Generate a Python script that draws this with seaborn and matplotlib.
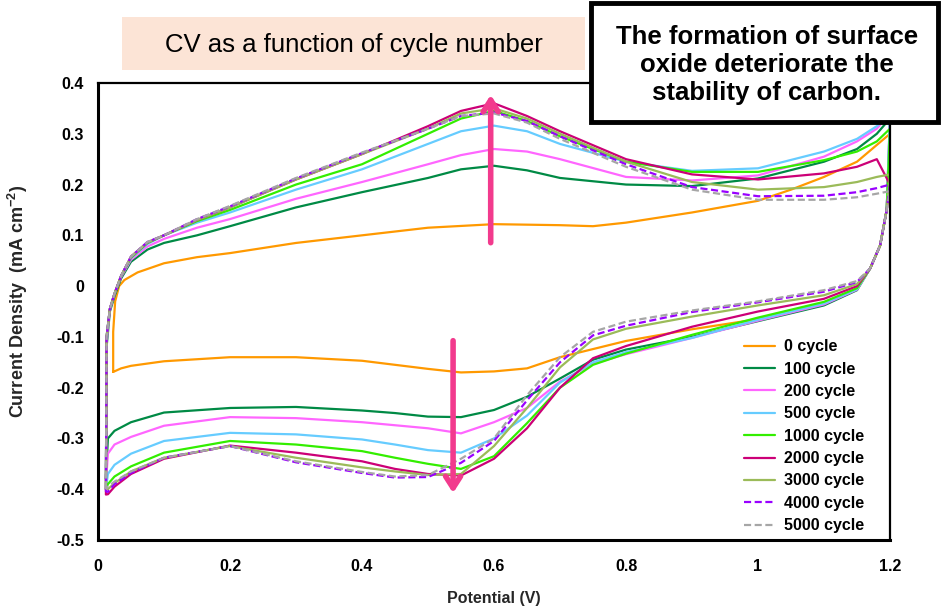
import numpy as np
import pandas as pd
import matplotlib
matplotlib.use("Agg")
import matplotlib.pyplot as plt
import seaborn as sns
from matplotlib.patches import Rectangle

sns.set_theme(style="white")
plt.rcParams['font.family'] = ['Liberation Sans', 'DejaVu Sans']
plt.rcParams['mathtext.fontset'] = 'custom'
plt.rcParams['mathtext.rm'] = 'Liberation Sans'
plt.rcParams['mathtext.bf'] = 'Liberation Sans:bold'

# ---------------- data ----------------
cycles = ["0 cycle", "100 cycle", "200 cycle", "500 cycle", "1000 cycle",
          "2000 cycle", "3000 cycle", "4000 cycle", "5000 cycle"]

# shared potential grids (anodic sweep up, cathodic sweep down)
v_up = [0.012, 0.013, 0.018, 0.025, 0.035, 0.05, 0.075, 0.1, 0.15, 0.2, 0.3, 0.4,
        0.5, 0.55, 0.6, 0.65, 0.7, 0.8, 0.9, 1.0, 1.1, 1.15, 1.18, 1.2]
v_down = [1.195, 1.185, 1.17, 1.15, 1.1, 1.0, 0.9, 0.8, 0.75, 0.7, 0.65, 0.6,
          0.55, 0.5, 0.45, 0.4, 0.3, 0.2, 0.1, 0.05, 0.025, 0.015, 0.012]

# 0 cycle has its own potential grids
v_up_0 = [0.023, 0.023, 0.026, 0.032, 0.04, 0.06, 0.1, 0.15, 0.2, 0.3, 0.4, 0.5,
          0.6, 0.7, 0.75, 0.8, 0.9, 1.0, 1.05, 1.1, 1.15, 1.2]
v_down_0 = [1.195, 1.185, 1.17, 1.15, 1.1, 1.0, 0.9, 0.8, 0.7, 0.65, 0.6, 0.55,
            0.5, 0.4, 0.3, 0.2, 0.1, 0.05, 0.035, 0.023]

up_0 = [-0.169, -0.09, -0.03, 0.0, 0.012, 0.027, 0.045, 0.057, 0.065, 0.085, 0.1,
        0.115, 0.122, 0.12, 0.118, 0.125, 0.145, 0.168, 0.19, 0.215, 0.245, 0.30]
down_0 = [0.15, 0.08, 0.035, -0.006, -0.036, -0.065, -0.085, -0.108, -0.14, -0.162,
          -0.168, -0.17, -0.163, -0.147, -0.14, -0.14, -0.148, -0.157, -0.162, -0.169]

up_100 = [-0.38, -0.12, -0.05, -0.02, 0.015, 0.048, 0.072, 0.085, 0.1, 0.118, 0.155,
          0.185, 0.213, 0.23, 0.237, 0.228, 0.213, 0.2, 0.197, 0.212, 0.245, 0.27, 0.30, 0.33]
up_200 = [-0.39, -0.11, -0.045, -0.015, 0.018, 0.052, 0.078, 0.093, 0.115, 0.132, 0.172,
          0.205, 0.24, 0.258, 0.27, 0.265, 0.25, 0.215, 0.208, 0.218, 0.255, 0.285, 0.31, 0.34]
up_500 = [-0.40, -0.10, -0.045, -0.015, 0.02, 0.055, 0.083, 0.1, 0.125, 0.145, 0.19,
          0.23, 0.28, 0.305, 0.316, 0.305, 0.28, 0.245, 0.227, 0.232, 0.265, 0.29, 0.315, 0.34]
up_1000 = [-0.40, -0.10, -0.045, -0.015, 0.02, 0.056, 0.085, 0.1, 0.128, 0.15, 0.2,
           0.24, 0.30, 0.33, 0.345, 0.325, 0.295, 0.245, 0.225, 0.225, 0.248, 0.265, 0.285, 0.31]
up_2000 = [-0.41, -0.10, -0.045, -0.015, 0.02, 0.058, 0.086, 0.1, 0.13, 0.155, 0.21,
           0.26, 0.315, 0.345, 0.36, 0.335, 0.305, 0.25, 0.22, 0.21, 0.222, 0.235, 0.25, 0.20]
up_3000 = [-0.40, -0.10, -0.045, -0.015, 0.02, 0.058, 0.086, 0.1, 0.13, 0.155, 0.21,
           0.26, 0.31, 0.34, 0.35, 0.33, 0.30, 0.245, 0.205, 0.19, 0.195, 0.205, 0.215, 0.22]
up_4000 = [-0.405, -0.10, -0.045, -0.015, 0.02, 0.058, 0.087, 0.1, 0.132, 0.157, 0.212,
           0.262, 0.31, 0.335, 0.342, 0.325, 0.295, 0.24, 0.195, 0.177, 0.178, 0.185, 0.193, 0.20]
up_5000 = [-0.40, -0.10, -0.045, -0.015, 0.02, 0.058, 0.087, 0.1, 0.132, 0.158, 0.213,
           0.263, 0.31, 0.335, 0.34, 0.322, 0.29, 0.235, 0.19, 0.17, 0.17, 0.175, 0.182, 0.187]

down_100 = [0.15, 0.08, 0.035, -0.008, -0.038, -0.069, -0.1, -0.125, -0.145, -0.182,
            -0.218, -0.244, -0.258, -0.257, -0.25, -0.245, -0.238, -0.24, -0.249, -0.268,
            -0.285, -0.30, -0.38]
down_200 = [0.15, 0.08, 0.035, -0.007, -0.036, -0.068, -0.102, -0.134, -0.153, -0.188,
            -0.24, -0.268, -0.29, -0.28, -0.274, -0.268, -0.26, -0.258, -0.275, -0.297,
            -0.312, -0.33, -0.39]
down_500 = [0.15, 0.08, 0.035, -0.006, -0.034, -0.066, -0.102, -0.13, -0.15, -0.19,
            -0.255, -0.30, -0.328, -0.323, -0.312, -0.302, -0.292, -0.289, -0.305, -0.33,
            -0.352, -0.37, -0.40]
down_1000 = [0.15, 0.08, 0.035, -0.004, -0.031, -0.062, -0.096, -0.133, -0.155, -0.20,
             -0.27, -0.335, -0.36, -0.35, -0.338, -0.325, -0.312, -0.305, -0.328, -0.355,
             -0.375, -0.39, -0.40]
down_2000 = [0.15, 0.08, 0.035, 0.0, -0.025, -0.05, -0.08, -0.118, -0.142, -0.20,
             -0.28, -0.34, -0.373, -0.37, -0.36, -0.345, -0.328, -0.314, -0.34, -0.37,
             -0.395, -0.41, -0.41]
down_3000 = [0.15, 0.08, 0.035, 0.004, -0.018, -0.038, -0.06, -0.084, -0.105, -0.16,
             -0.24, -0.315, -0.37, -0.372, -0.365, -0.357, -0.338, -0.315, -0.338, -0.365,
             -0.388, -0.40, -0.40]
down_4000 = [0.15, 0.08, 0.035, 0.008, -0.011, -0.032, -0.051, -0.078, -0.097, -0.15,
             -0.225, -0.305, -0.348, -0.376, -0.377, -0.368, -0.347, -0.315, -0.338, -0.368,
             -0.39, -0.405, -0.405]
down_5000 = [0.15, 0.08, 0.035, 0.01, -0.008, -0.03, -0.048, -0.07, -0.09, -0.14,
             -0.215, -0.30, -0.34, -0.372, -0.375, -0.366, -0.345, -0.315, -0.338, -0.365,
             -0.385, -0.395, -0.40]

colors = ["#FF9900", "#008A45", "#FF66FF", "#66CCFF", "#33EE00",
          "#CC0077", "#9BBB59", "#9900FF", "#A6A6A6"]
dashed = [False, False, False, False, False, False, False, True, True]

# ---------------- build table ----------------
ups = [up_0, up_100, up_200, up_500, up_1000, up_2000, up_3000, up_4000, up_5000]
downs = [down_0, down_100, down_200, down_500, down_1000, down_2000, down_3000, down_4000, down_5000]
frames = []
for i, name in enumerate(cycles):
    vu = v_up_0 if i == 0 else v_up
    vd = v_down_0 if i == 0 else v_down
    V = list(vu) + list(vd)
    I = list(ups[i]) + list(downs[i])
    frames.append(pd.DataFrame({"Potential": V, "Current": I, "cycle": name,
                                "order": np.arange(len(V))}))
df = pd.concat(frames, ignore_index=True)

# ---------------- figure ----------------
W, H = 941, 613
fig = plt.figure(figsize=(W / 100, H / 100), dpi=100)
ax = fig.add_axes([98 / W, 1 - 540 / H, (890 - 98) / W, (540 - 83) / H])

for i, name in enumerate(cycles):
    sub = df[df["cycle"] == name].sort_values("order")
    sns.lineplot(data=sub, x="Potential", y="Current", sort=False, estimator=None,
                 ax=ax, color=colors[i], linewidth=1.6, label=name,
                 linestyle=(0, (3.2, 1.6)) if dashed[i] else "-")

ax.set_xlim(0, 1.2)
ax.set_ylim(-0.5, 0.4)
ax.set_xticks([0, 0.2, 0.4, 0.6, 0.8, 1.0, 1.2])
ax.set_xticklabels(["0", "0.2", "0.4", "0.6", "0.8", "1", "1.2"])
ax.set_yticks(np.round(np.arange(-0.5, 0.41, 0.1), 1))
ax.set_yticklabels(["-0.5", "-0.4", "-0.3", "-0.2", "-0.1", "0", "0.1", "0.2", "0.3", "0.4"])
for lab in ax.get_xticklabels() + ax.get_yticklabels():
    lab.set_fontweight("bold")
    lab.set_fontsize(11.5)
ax.tick_params(axis="x", direction="inout", length=6, width=1, pad=11, colors="black")
ax.tick_params(axis="y", direction="out", length=4, width=1, pad=6, colors="black")
ax.tick_params(axis="both", labelcolor="black")
for side in ["left", "bottom"]:
    ax.spines[side].set_linewidth(2.2)
    ax.spines[side].set_color("black")
for side in ["top", "right"]:
    ax.spines[side].set_linewidth(1.6)
    ax.spines[side].set_color("black")

ax.set_xlabel("Potential (V)", fontsize=11.5, fontweight="bold", labelpad=12)
ax.set_ylabel(r"Current Density  (mA cm$^{\mathbf{-2}}$)", fontsize=13,
              fontweight="bold", labelpad=4)
ax.yaxis.set_label_coords(18 / W, 1 - 301 / H, transform=fig.transFigure)
ax.yaxis.label.set_va("center")

leg = ax.legend(loc="upper left", bbox_to_anchor=(738 / W, 1 - 333 / H),
                bbox_transform=fig.transFigure, frameon=False,
                prop={"weight": "bold", "size": 11.5}, handlelength=1.9,
                handletextpad=0.6, labelspacing=0.46, borderaxespad=0)
for t in leg.get_texts():
    t.set_color("black")

# arrows
arrow_col = "#F23A8D"
ax.annotate("", xy=(0.595, 0.382), xytext=(0.595, 0.08),
            arrowprops=dict(arrowstyle="->,head_length=0.7,head_width=0.45",
                            lw=4, color=arrow_col))
ax.annotate("", xy=(0.538, -0.413), xytext=(0.538, -0.102),
            arrowprops=dict(arrowstyle="->,head_length=0.7,head_width=0.45",
                            lw=4, color=arrow_col))

# title panel
fig.add_artist(Rectangle((122 / W, 1 - 70 / H), (585 - 122) / W, (70 - 17) / H,
                         transform=fig.transFigure, facecolor="#FCE4D6",
                         edgecolor="none", zorder=4))
fig.text(354 / W, 1 - 45 / H, "CV as a function of cycle number", ha="center",
         va="center", fontsize=18.5, color="black", zorder=5)

# note box
fig.add_artist(Rectangle((591 / W, 1 - 122 / H), (938 - 591) / W, (122 - 3) / H,
                         transform=fig.transFigure, facecolor="white",
                         edgecolor="black", linewidth=3.5, zorder=6))
fig.text(767 / W, 1 - 65 / H,
         "The formation of surface\noxide deteriorate the\nstability of carbon.",
         ha="center", va="center", fontsize=18.5, fontweight="bold",
         linespacing=1.2, color="black", zorder=7)

fig.savefig("out.png", dpi=100, facecolor="white")
